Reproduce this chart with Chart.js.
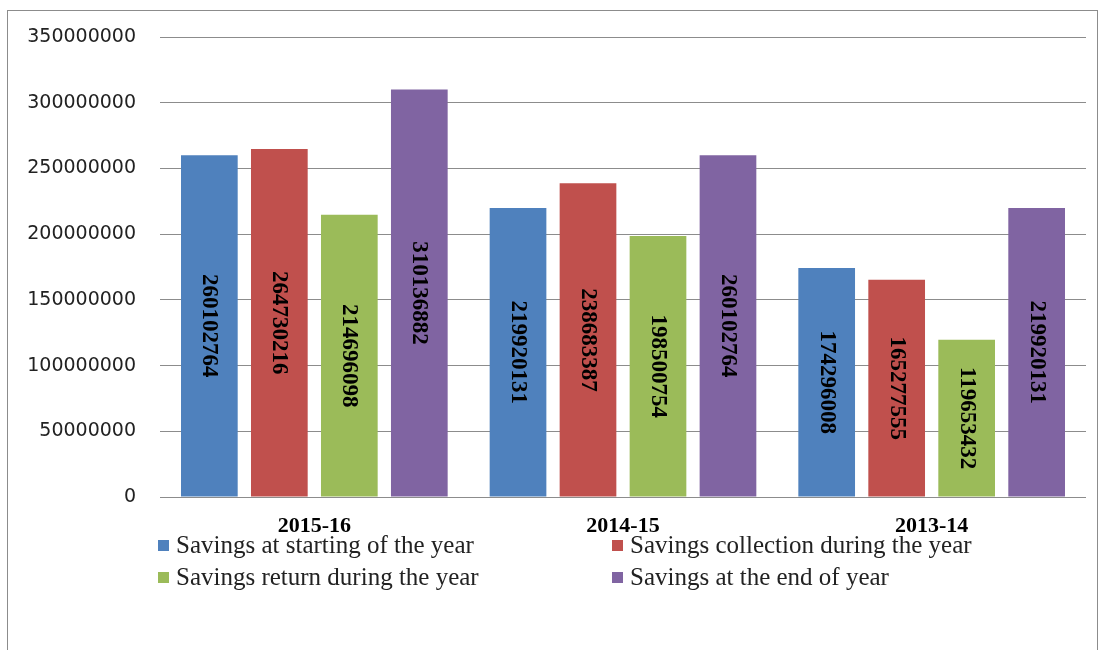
<!DOCTYPE html>
<html><head><meta charset="utf-8">
<script src="https://cdn.jsdelivr.net/npm/chart.js@4.4.1/dist/chart.umd.min.js"></script>
<style>
html,body{margin:0;padding:0;background:#fff;}
#wrap{position:relative;width:1102px;height:650px;overflow:hidden;}
#frame{position:absolute;left:7px;top:10px;width:1091px;height:660px;border:1px solid #8c8c8c;box-sizing:border-box;}
canvas{position:absolute;left:0;top:0;}
#legend{position:absolute;left:158px;top:529px;width:900px;font-family:"Liberation Serif","Times New Roman",serif;font-size:25px;color:#222;}
.item{position:absolute;white-space:nowrap;line-height:31px;height:31px;}
.sw{display:inline-block;width:11px;height:11px;margin-right:7px;vertical-align:2px;}
</style></head>
<body><div id="wrap"><div id="frame"></div><canvas id="c" width="1102" height="650"></canvas><div id="legend"></div></div>
<script>
const categories = ["2015-16", "2014-15", "2013-14"];
const seriesNames = ["Savings at starting of the year", "Savings collection during the year", "Savings return during the year", "Savings at the end of year"];
const startingSavings = [260102764, 219920131, 174296008];
const collectionSavings = [264730216, 238683387, 165277555];
const returnSavings = [214696098, 198500754, 119653432];
const endSavings = [310136882, 260102764, 219920131];
const colors = ["#4f81bd", "#c0504d", "#9bbb59", "#8064a2"];
const yTicks = [0, 50000000, 100000000, 150000000, 200000000, 250000000, 300000000, 350000000];

const seriesData = [startingSavings, collectionSavings, returnSavings, endSavings];

const labelPlugin = {
  id: 'vlabels',
  afterDatasetsDraw(chart) {
    const ctx = chart.ctx;
    ctx.save();
    ctx.font = 'bold 23px "Liberation Serif", "Times New Roman", serif';
    ctx.fillStyle = '#000';
    ctx.textAlign = 'center';
    ctx.textBaseline = 'middle';
    chart.data.datasets.forEach((ds, i) => {
      const meta = chart.getDatasetMeta(i);
      meta.data.forEach((bar, j) => {
        const x = bar.x, y = (bar.y + bar.base) / 2;
        ctx.save();
        ctx.translate(x, y);
        ctx.rotate(Math.PI / 2);
        ctx.fillText(String(ds.data[j]), 0, 0);
        ctx.restore();
      });
    });
    ctx.restore();
  }
};

new Chart(document.getElementById('c'), {
  type: 'bar',
  data: {
    labels: categories,
    datasets: seriesData.map((d, i) => ({
      label: seriesNames[i], data: d, backgroundColor: colors[i],
      borderWidth: 0, barPercentage: 0.81, categoryPercentage: 0.907
    }))
  },
  options: {
    responsive: false, animation: false,
    layout: { padding: { top: 37, right: 16, left: 0, bottom: 0 } },
    plugins: { legend: { display: false }, tooltip: { enabled: false } },
    scales: {
      x: {
        grid: { display: false, drawTicks: false },
        border: { display: false },
        ticks: { color: '#000', padding: 16, font: { family: '"Liberation Serif", "Times New Roman", serif', size: 22, weight: 'bold' } },
        afterFit(s) { s.height = 153; }
      },
      y: {
        min: 0, max: 350000000,
        afterBuildTicks(s) { s.ticks = yTicks.map(v => ({ value: v })); },
        grid: { color: '#8c8c8c', lineWidth: 1, drawTicks: false },
        border: { display: false },
        ticks: { color: '#222', padding: 24, font: { family: '"DejaVu Sans", Verdana, sans-serif', size: 19 }, callback: v => String(v) },
        afterFit(s) { s.width = 160; }
      }
    }
  },
  plugins: [labelPlugin]
});

const legend = document.getElementById('legend');
const pos = [[0,0],[454,0],[0,32],[454,32]];
seriesNames.forEach((n, i) => {
  const d = document.createElement('div');
  d.className = 'item';
  d.style.left = pos[i][0] + 'px'; d.style.top = pos[i][1] + 'px';
  d.innerHTML = '<span class="sw" style="background:' + colors[i] + '"></span>' + n;
  legend.appendChild(d);
});
</script></body></html>
